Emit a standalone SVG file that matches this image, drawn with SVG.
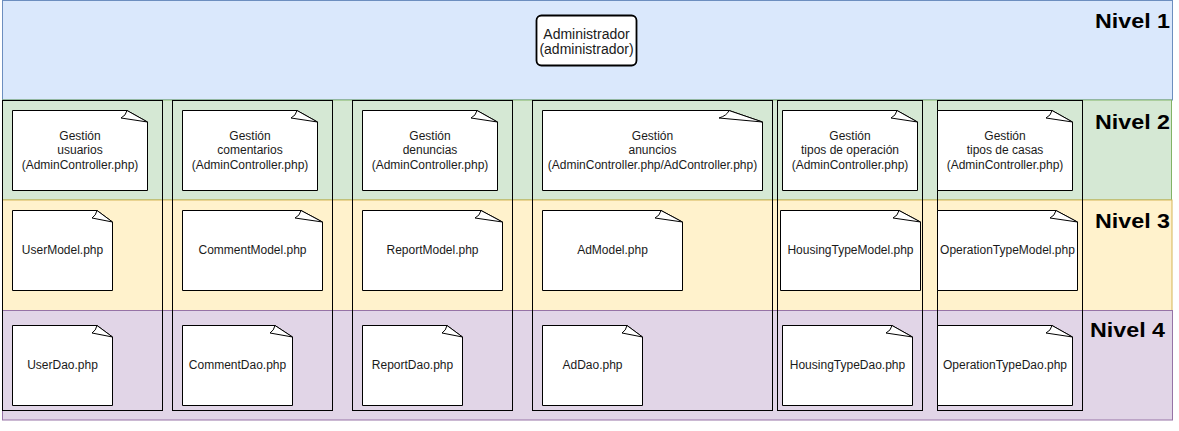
<svg xmlns="http://www.w3.org/2000/svg" width="1179" height="431" viewBox="0 0 1179 431">
<style>
  .note { fill: #ffffff; stroke: #000000; stroke-width: 1; stroke-linejoin: round; }
  .col { fill: none; stroke: #000000; stroke-width: 1; }
  .t { font-family: "Liberation Sans", Arial, Helvetica, sans-serif; font-size: 12px; fill: #1a1a1a; text-anchor: middle; }
  .ta { font-family: "Liberation Sans", Arial, Helvetica, sans-serif; font-size: 14px; fill: #1a1a1a; text-anchor: middle; }
  .lvl { font-family: "Liberation Sans", Arial, Helvetica, sans-serif; font-size: 20px; font-weight: bold; fill: #000000; }
</style>
<rect width="1179" height="431" fill="#ffffff"/>
<g id="bands">
  <rect id="nivel1-band" x="2.5" y="0.5" width="1170" height="99.5" fill="#dae8fc" stroke="#6c8ebf"/>
  <rect id="nivel2-band" x="2.5" y="100" width="1169" height="100" fill="#d5e8d4" stroke="#82b366"/>
  <rect id="nivel3-band" x="2.5" y="200" width="1169.5" height="110.5" fill="#fff2cc" stroke="#d6b656"/>
  <rect id="nivel4-band" x="2.5" y="310.5" width="1170" height="109.5" fill="#e1d5e7" stroke="#9673a6"/>
  <text class="lvl" x="1095" y="28" textLength="75" lengthAdjust="spacingAndGlyphs">Nivel 1</text>
  <text class="lvl" x="1095" y="129" textLength="75" lengthAdjust="spacingAndGlyphs">Nivel 2</text>
  <text class="lvl" x="1095" y="228" textLength="75" lengthAdjust="spacingAndGlyphs">Nivel 3</text>
  <text class="lvl" x="1090" y="337" textLength="75" lengthAdjust="spacingAndGlyphs">Nivel 4</text>
</g>
<g id="columns">
  <rect class="col" x="2.5" y="100.5" width="160" height="310"/>
  <rect class="col" x="172.5" y="100.5" width="160" height="310"/>
  <rect class="col" x="352.5" y="100.5" width="160" height="310"/>
  <rect class="col" x="532.5" y="100.5" width="240" height="310"/>
  <rect class="col" x="777.5" y="100.5" width="145" height="310"/>
  <rect class="col" x="937.5" y="100.5" width="145" height="310"/>
</g>
<g id="connectors"></g>
<g id="admin">
  <rect x="536.5" y="15.5" width="100" height="50" rx="5" ry="5" fill="#ffffff" stroke="#000000" stroke-width="1.8"/>
  <text class="ta" x="586.5" y="39">Administrador</text>
  <text class="ta" x="586.5" y="53.5">(administrador)</text>
</g>

<!-- Nivel 2 -->
<g id="gestion-usuarios">
  <path class="note" d="M12.5,110.5 H127 L147.5,122 V190.5 H12.5 Z"/>
  <path class="note" d="M127,110.5 Q126,115.5 121,118 L147.5,122 Z"/>
  <text class="t" x="80" y="140">Gestión</text>
  <text class="t" x="80" y="154.3">usuarios</text>
  <text class="t" x="80" y="168.7">(AdminController.php)</text>
</g>
<g id="gestion-comentarios">
  <path class="note" d="M182.5,110.5 H297 L317.5,122 V190.5 H182.5 Z"/>
  <path class="note" d="M297,110.5 Q296,115.5 291,118 L317.5,122 Z"/>
  <text class="t" x="250" y="140">Gestión</text>
  <text class="t" x="250" y="154.3">comentarios</text>
  <text class="t" x="250" y="168.7">(AdminController.php)</text>
</g>
<g id="gestion-denuncias">
  <path class="note" d="M362.5,110.5 H477 L497.5,122 V190.5 H362.5 Z"/>
  <path class="note" d="M477,110.5 Q476,115.5 471,118 L497.5,122 Z"/>
  <text class="t" x="430" y="140">Gestión</text>
  <text class="t" x="430" y="154.3">denuncias</text>
  <text class="t" x="430" y="168.7">(AdminController.php)</text>
</g>
<g id="gestion-anuncios">
  <path class="note" d="M542.5,110.5 H729 L762.5,122 V190.5 H542.5 Z"/>
  <path class="note" d="M729,110.5 Q727,115.5 719,118 L762.5,122 Z"/>
  <text class="t" x="652.5" y="140">Gestión</text>
  <text class="t" x="652.5" y="154.3">anuncios</text>
  <text class="t" x="652.5" y="168.7">(AdminController.php/AdController.php)</text>
</g>
<g id="gestion-tipos-operacion">
  <path class="note" d="M782.5,110.5 H897 L917.5,122 V190.5 H782.5 Z"/>
  <path class="note" d="M897,110.5 Q896,115.5 891,118 L917.5,122 Z"/>
  <text class="t" x="850" y="140">Gestión</text>
  <text class="t" x="850" y="154.3">tipos de operación</text>
  <text class="t" x="850" y="168.7">(AdminController.php)</text>
</g>
<g id="gestion-tipos-casas">
  <path class="note" d="M937.5,110.5 H1052 L1072.5,122 V190.5 H937.5 Z"/>
  <path class="note" d="M1052,110.5 Q1051,115.5 1046,118 L1072.5,122 Z"/>
  <text class="t" x="1005" y="140">Gestión</text>
  <text class="t" x="1005" y="154.3">tipos de casas</text>
  <text class="t" x="1005" y="168.7">(AdminController.php)</text>
</g>

<!-- Nivel 3 -->
<g id="user-model">
  <path class="note" d="M12.5,210.5 H97 L112.5,222 V290.5 H12.5 Z"/>
  <path class="note" d="M97,210.5 Q96,215.5 92,218 L112.5,222 Z"/>
  <text class="t" x="62.5" y="254.3">UserModel.php</text>
</g>
<g id="comment-model">
  <path class="note" d="M182.5,210.5 H301 L322.5,222 V290.5 H182.5 Z"/>
  <path class="note" d="M301,210.5 Q300,215.5 295,218 L322.5,222 Z"/>
  <text class="t" x="252.5" y="254.3">CommentModel.php</text>
</g>
<g id="report-model">
  <path class="note" d="M362.5,210.5 H481 L502.5,222 V290.5 H362.5 Z"/>
  <path class="note" d="M481,210.5 Q480,215.5 475,218 L502.5,222 Z"/>
  <text class="t" x="432.5" y="254.3">ReportModel.php</text>
</g>
<g id="ad-model">
  <path class="note" d="M542.5,210.5 H661 L682.5,222 V290.5 H542.5 Z"/>
  <path class="note" d="M661,210.5 Q660,215.5 655,218 L682.5,222 Z"/>
  <text class="t" x="612.5" y="254.3">AdModel.php</text>
</g>
<g id="housing-type-model">
  <path class="note" d="M780.5,210.5 H899 L920.5,222 V290.5 H780.5 Z"/>
  <path class="note" d="M899,210.5 Q898,215.5 893,218 L920.5,222 Z"/>
  <text class="t" x="850.5" y="254.3">HousingTypeModel.php</text>
</g>
<g id="operation-type-model">
  <path class="note" d="M937.5,210.5 H1056 L1077.5,222 V290.5 H937.5 Z"/>
  <path class="note" d="M1056,210.5 Q1055,215.5 1050,218 L1077.5,222 Z"/>
  <text class="t" x="1007.5" y="254.3">OperationTypeModel.php</text>
</g>

<!-- Nivel 4 -->
<g id="user-dao">
  <path class="note" d="M12.5,325.5 H97 L112.5,337 V405.5 H12.5 Z"/>
  <path class="note" d="M97,325.5 Q96,330.5 92,333 L112.5,337 Z"/>
  <text class="t" x="62.5" y="369.3">UserDao.php</text>
</g>
<g id="comment-dao">
  <path class="note" d="M182.5,325.5 H275 L292.5,337 V405.5 H182.5 Z"/>
  <path class="note" d="M275,325.5 Q274,330.5 270,333 L292.5,337 Z"/>
  <text class="t" x="237.5" y="369.3">CommentDao.php</text>
</g>
<g id="report-dao">
  <path class="note" d="M362.5,325.5 H447 L462.5,337 V405.5 H362.5 Z"/>
  <path class="note" d="M447,325.5 Q446,330.5 442,333 L462.5,337 Z"/>
  <text class="t" x="412.5" y="369.3">ReportDao.php</text>
</g>
<g id="ad-dao">
  <path class="note" d="M542.5,325.5 H627 L642.5,337 V405.5 H542.5 Z"/>
  <path class="note" d="M627,325.5 Q626,330.5 622,333 L642.5,337 Z"/>
  <text class="t" x="592.5" y="369.3">AdDao.php</text>
</g>
<g id="housing-type-dao">
  <path class="note" d="M782.5,325.5 H892 L912.5,337 V405.5 H782.5 Z"/>
  <path class="note" d="M892,325.5 Q891,330.5 886,333 L912.5,337 Z"/>
  <text class="t" x="847.5" y="369.3">HousingTypeDao.php</text>
</g>
<g id="operation-type-dao">
  <path class="note" d="M937.5,325.5 H1052 L1072.5,337 V405.5 H937.5 Z"/>
  <path class="note" d="M1052,325.5 Q1051,330.5 1046,333 L1072.5,337 Z"/>
  <text class="t" x="1005" y="369.3">OperationTypeDao.php</text>
</g>
</svg>
